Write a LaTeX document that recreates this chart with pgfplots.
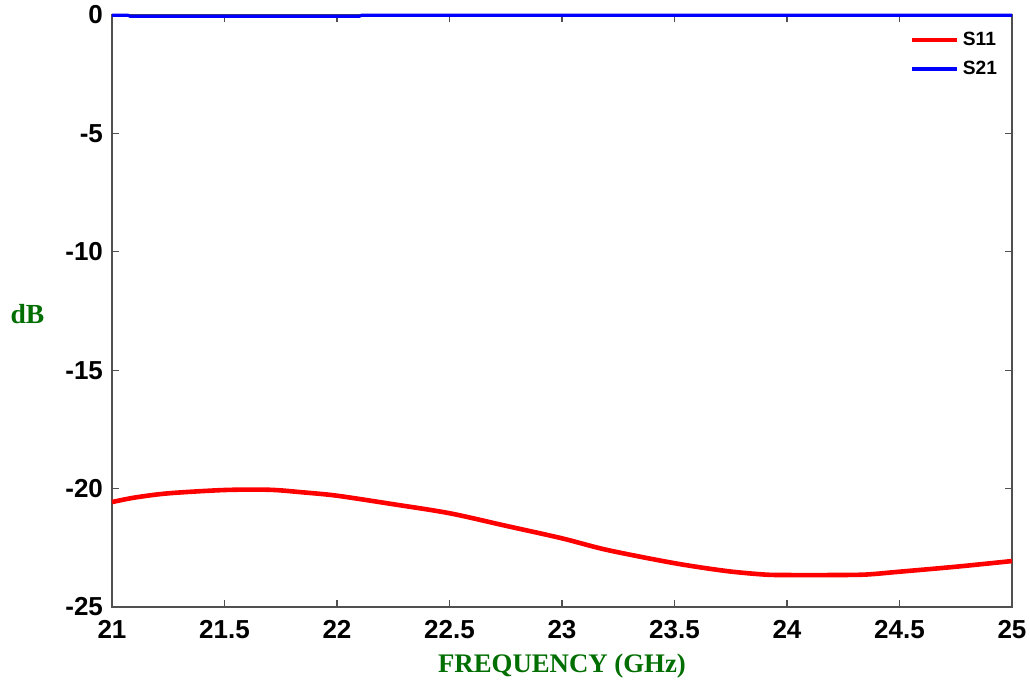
\documentclass[border=0pt]{standalone}
\usepackage{fontspec}
\setmainfont{Liberation Sans}
\newfontfamily\labelfont{Liberation Serif}
\usepackage{pgfplots}
\pgfplotsset{compat=1.18}
\definecolor{labelgreen}{RGB}{0,110,0}
\definecolor{frame}{RGB}{80,80,80}

\begin{document}
\begin{tikzpicture}
\begin{axis}[
  scale only axis,
  width=450pt, height=296pt,
  xmin=21, xmax=25, ymin=-25, ymax=0,
  xtick={21,21.5,...,25},
  ytick={-25,-20,...,0},
  tick align=inside,
  major tick length=3.5pt,
  axis line style={frame, line width=0.6pt},
  tick style={frame, line width=0.6pt},
  /pgf/number format/assume math mode=true,
  tick label style={font=\bfseries\fontsize{13}{13}\selectfont},
  xticklabel style={yshift=-3pt},
  yticklabel style={xshift=-1pt},
  xlabel={\labelfont\bfseries\fontsize{13.4}{14}\selectfont FREQUENCY (GHz)},
  ylabel={\labelfont\bfseries\fontsize{13.8}{14}\selectfont dB},
  xlabel style={at={(axis description cs:0.5,-0.1)}, anchor=center, text=labelgreen},
  ylabel style={at={(axis description cs:-0.094,0.495)}, rotate=-90, anchor=center, text=labelgreen},
  legend style={draw=none, fill=none, at={(rel axis cs:0.995,0.985)}, anchor=north east,
    font=\bfseries\fontsize{9.6}{10}\selectfont, row sep=2pt},
  legend cell align=left,
  legend image code/.code={\draw[#1, line width=2pt] (0pt,0pt) -- (22.5pt,0pt);},
  clip=false,
]
% S11 (return loss)
\addplot[red, line width=2.3pt, smooth] coordinates {
  (21.00,-20.57) (21.10,-20.38) (21.25,-20.20) (21.50,-20.06) (21.70,-20.05)
  (21.85,-20.16) (22.00,-20.30) (22.25,-20.66) (22.50,-21.04) (22.75,-21.57)
  (23.00,-22.10) (23.20,-22.59) (23.50,-23.15) (23.73,-23.48) (23.90,-23.63)
  (24.00,-23.65) (24.20,-23.65) (24.35,-23.63) (24.50,-23.51) (24.75,-23.30)
  (25.00,-23.06)
};
\addlegendentry{S11}
% S21 (insertion loss)
\addplot[blue, line width=1.6pt] coordinates {
  (21.00,-0.01) (21.07,-0.01) (21.08,-0.05) (21.50,-0.05) (22.00,-0.05)
  (22.10,-0.05) (22.11,-0.01) (23.00,-0.01) (24.00,-0.01) (25.00,-0.01)
};
\addlegendentry{S21}
\end{axis}
\pgfresetboundingbox
\path ([xshift=-56pt,yshift=-36.5pt]current axis.south west)
  rectangle ([xshift=9pt,yshift=7.5pt]current axis.north east);
\end{tikzpicture}
\end{document}
